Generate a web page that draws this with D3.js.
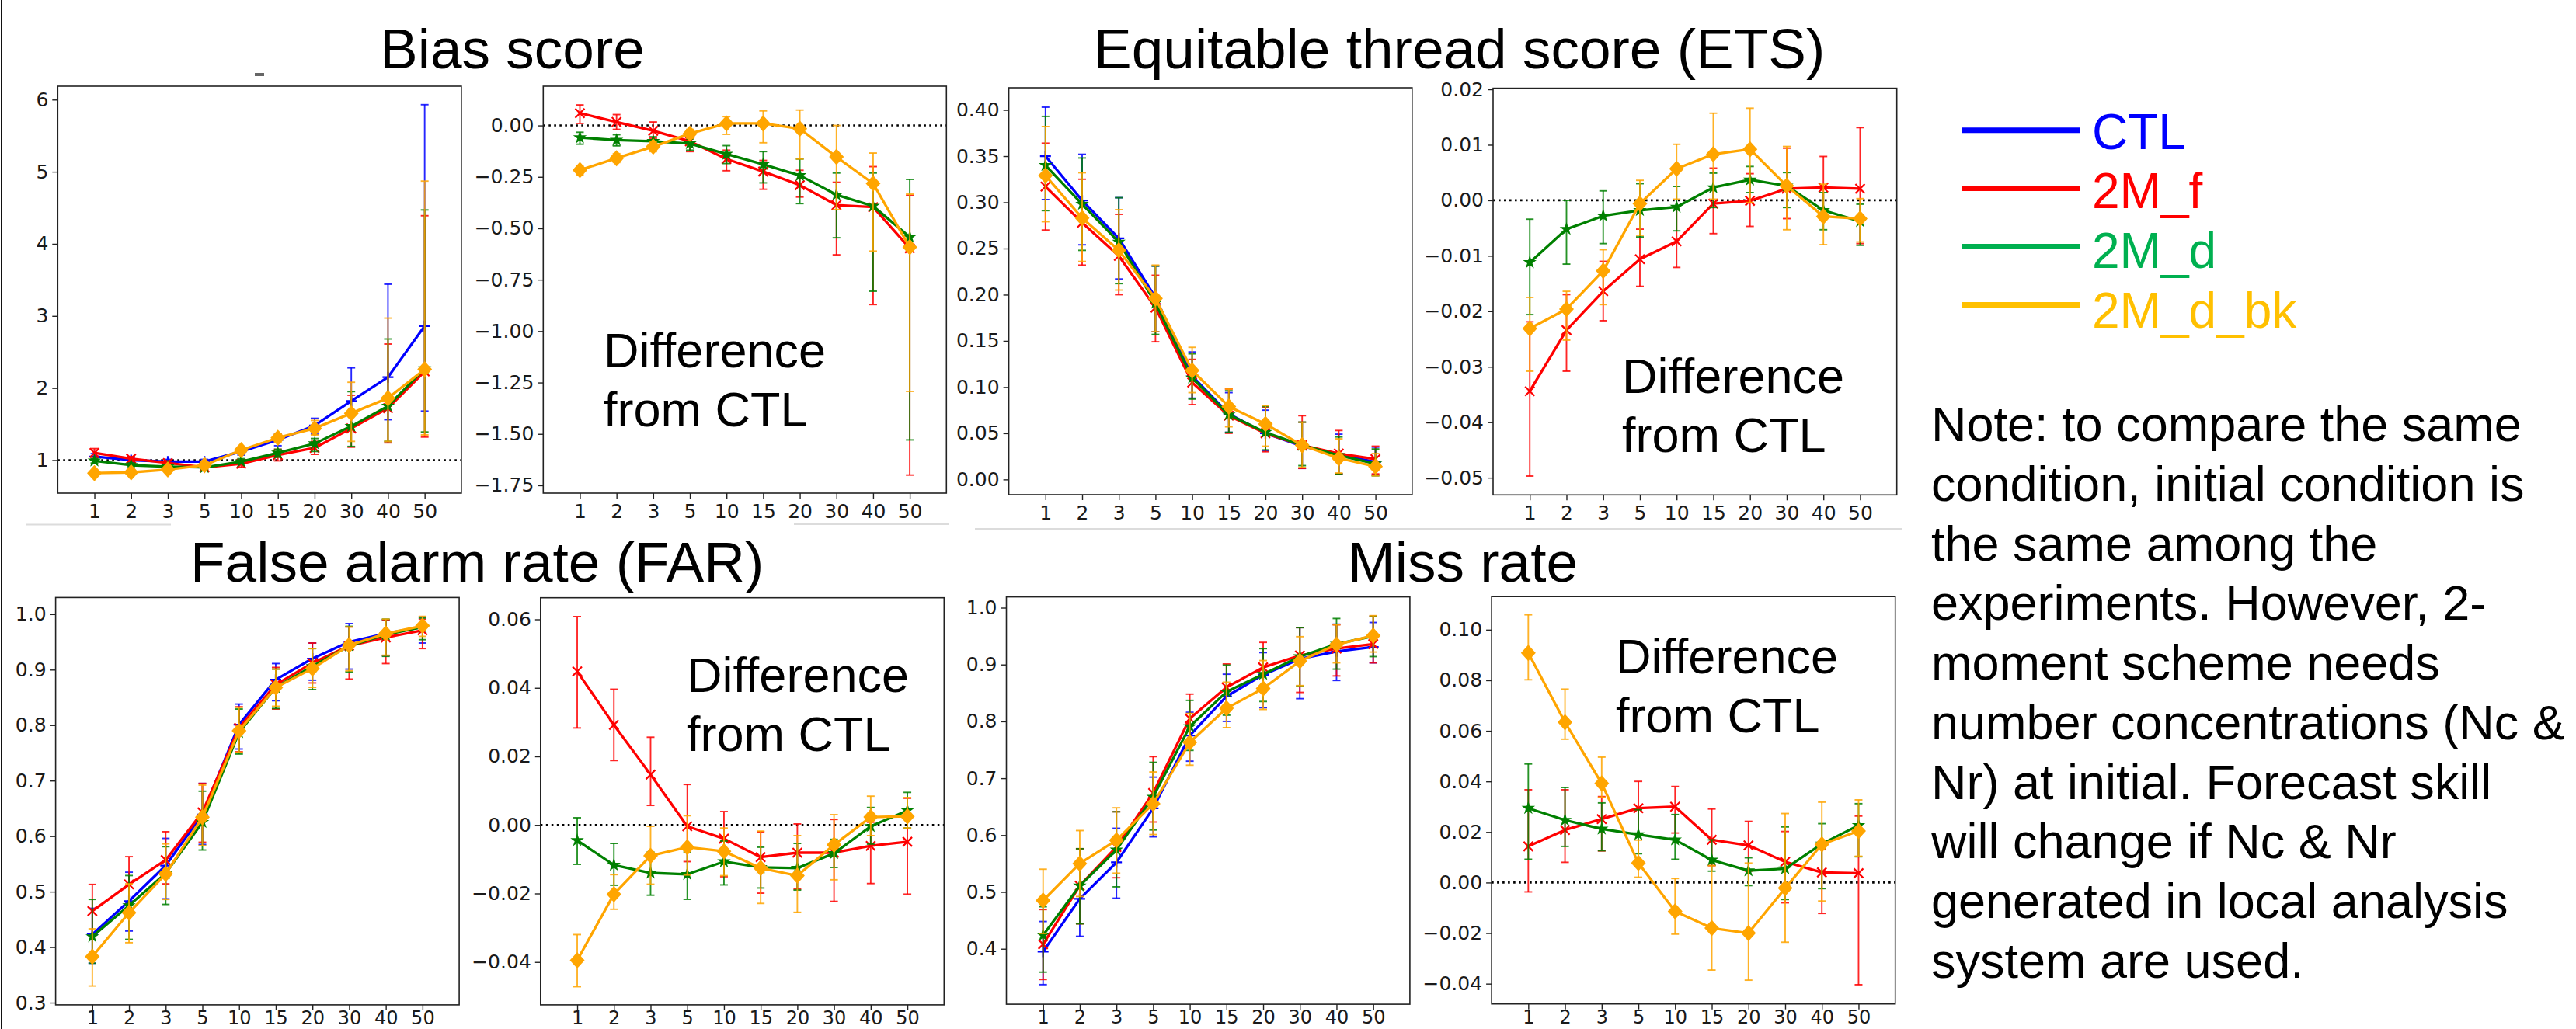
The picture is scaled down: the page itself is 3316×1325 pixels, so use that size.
<!DOCTYPE html>
<html>
<head>
<meta charset="utf-8">
<script src="https://cdn.jsdelivr.net/npm/d3@7"></script>
<style>
  body { margin: 0; background: #fff; }
  .slide { font-family: "Liberation Sans", Arial, sans-serif; }
</style>
</head>
<body>
<svg id="chart" width="3316" height="1325"></svg>
<script>
// forecast lead (x categories)
var leads = ["1", "2", "3", "5", "10", "15", "20", "30", "40", "50"];
var seriesNames = ["CTL", "2M_f", "2M_d", "2M_d_bk"];

// each point: [value, lower, upper]
// --- Bias score
var biasCTL = [[1.05,1.01,1.09],[1.00,0.97,1.03],[0.98,0.95,1.01],[0.98,0.95,1.01],[1.12,1.07,1.17],[1.28,1.20,1.36],[1.48,1.36,1.58],[1.82,1.49,2.28],[2.15,1.56,3.44],[2.86,1.68,5.93]];
var biasF   = [[1.10,1.04,1.16],[1.02,0.98,1.05],[0.96,0.93,0.99],[0.90,0.87,0.93],[0.95,0.90,1.00],[1.07,0.99,1.15],[1.17,1.08,1.26],[1.44,1.18,1.90],[1.72,1.24,2.61],[2.23,1.32,4.39]];
var biasD   = [[0.99,0.96,1.02],[0.93,0.91,0.96],[0.91,0.89,0.93],[0.90,0.87,0.92],[0.98,0.95,1.02],[1.10,1.04,1.15],[1.23,1.12,1.30],[1.47,1.19,1.95],[1.75,1.26,2.68],[2.27,1.39,4.47]];
var biasBK  = [[0.82,0.80,0.84],[0.83,0.81,0.85],[0.87,0.85,0.89],[0.93,0.90,0.96],[1.14,1.10,1.18],[1.31,1.25,1.37],[1.44,1.35,1.55],[1.65,1.26,2.08],[1.86,1.26,2.97],[2.26,1.35,4.87]];
var biasDiffF  = [[0.06,0.01,0.10],[0.017,-0.019,0.053],[-0.026,-0.062,0.017],[-0.077,-0.127,-0.048],[-0.163,-0.22,-0.12],[-0.224,-0.31,-0.17],[-0.29,-0.348,-0.218],[-0.387,-0.629,-0.276],[-0.397,-0.871,-0.20],[-0.597,-1.70,-0.34]];
var biasDiffD  = [[-0.059,-0.091,-0.033],[-0.071,-0.099,-0.045],[-0.077,-0.103,-0.055],[-0.088,-0.12,-0.065],[-0.139,-0.185,-0.098],[-0.189,-0.279,-0.127],[-0.243,-0.38,-0.163],[-0.337,-0.546,-0.231],[-0.392,-0.806,-0.231],[-0.543,-1.529,-0.262]];
var biasDiffBK = [[-0.217,-0.24,-0.195],[-0.159,-0.18,-0.137],[-0.103,-0.127,-0.077],[-0.04,-0.062,-0.019],[0.01,-0.043,0.043],[0.01,-0.084,0.071],[-0.016,-0.163,0.075],[-0.153,-0.409,0.0],[-0.282,-0.611,-0.134],[-0.592,-1.293,-0.334]];

// --- Equitable threat score
var etsCTL = [[0.350,0.303,0.403],[0.302,0.254,0.352],[0.261,0.217,0.305],[0.197,0.160,0.231],[0.112,0.088,0.138],[0.071,0.051,0.094],[0.050,0.031,0.075],[0.036,0.012,0.062],[0.027,0.006,0.049],[0.019,0.005,0.035]];
var etsF   = [[0.317,0.270,0.364],[0.278,0.232,0.325],[0.242,0.200,0.287],[0.186,0.149,0.221],[0.105,0.081,0.130],[0.069,0.050,0.098],[0.050,0.030,0.078],[0.037,0.012,0.069],[0.028,0.006,0.053],[0.022,0.006,0.036]];
var etsD   = [[0.340,0.291,0.393],[0.298,0.248,0.348],[0.257,0.212,0.305],[0.191,0.157,0.231],[0.110,0.087,0.136],[0.070,0.051,0.096],[0.051,0.032,0.079],[0.037,0.015,0.062],[0.026,0.006,0.046],[0.017,0.004,0.033]];
var etsBK  = [[0.329,0.279,0.382],[0.283,0.236,0.332],[0.248,0.205,0.292],[0.196,0.160,0.232],[0.118,0.094,0.143],[0.079,0.057,0.098],[0.060,0.036,0.080],[0.037,0.013,0.062],[0.023,0.007,0.044],[0.014,0.004,0.028]];
var etsDiffF  = [[-0.0344,-0.0497,-0.0219],[-0.0234,-0.0308,-0.017],[-0.0164,-0.0217,-0.011],[-0.0106,-0.0155,-0.0052],[-0.0074,-0.0121,-0.001],[-0.0006,-0.006,0.0058],[-0.0001,-0.0047,0.0048],[0.0021,-0.0033,0.0094],[0.0023,-0.003,0.0079],[0.0021,-0.0078,0.0131]];
var etsDiffD  = [[-0.0112,-0.0206,-0.0034],[-0.0052,-0.0115,0.0],[-0.0028,-0.0078,0.0017],[-0.0018,-0.0066,0.003],[-0.0012,-0.0055,0.0025],[0.0023,-0.0013,0.0049],[0.0037,0.0014,0.0061],[0.0026,-0.0013,0.005],[-0.0018,-0.0053,0.0014],[-0.0038,-0.0081,-0.0007]];
var etsDiffBK = [[-0.0231,-0.0308,-0.0175],[-0.0196,-0.0252,-0.0164],[-0.0127,-0.0188,-0.0089],[-0.0006,-0.0063,0.0036],[0.0057,0.0002,0.0101],[0.0083,0.0002,0.0157],[0.0092,-0.0004,0.0166],[0.0026,-0.0053,0.0097],[-0.0029,-0.008,0.0029],[-0.0033,-0.0075,0.0003]];

// --- False alarm rate
var farCTL = [[0.423,0.371,0.470],[0.483,0.429,0.535],[0.547,0.487,0.596],[0.639,0.585,0.695],[0.801,0.757,0.838],[0.882,0.844,0.911],[0.920,0.881,0.948],[0.950,0.901,0.983],[0.965,0.925,0.990],[0.977,0.948,0.995]];
var farF   = [[0.465,0.420,0.513],[0.513,0.477,0.563],[0.557,0.514,0.608],[0.643,0.589,0.695],[0.795,0.752,0.833],[0.873,0.829,0.904],[0.912,0.876,0.948],[0.943,0.883,0.977],[0.958,0.911,0.989],[0.971,0.938,0.991]];
var farD   = [[0.419,0.371,0.486],[0.475,0.414,0.529],[0.533,0.477,0.581],[0.625,0.575,0.681],[0.787,0.748,0.829],[0.868,0.830,0.901],[0.906,0.864,0.938],[0.943,0.896,0.978],[0.963,0.924,0.991],[0.977,0.954,0.993]];
var farBK  = [[0.383,0.330,0.433],[0.462,0.408,0.514],[0.532,0.486,0.586],[0.634,0.583,0.692],[0.790,0.751,0.832],[0.868,0.834,0.901],[0.902,0.868,0.938],[0.944,0.898,0.977],[0.965,0.926,0.991],[0.979,0.960,0.996]];
var farDiffF  = [[0.0448,0.0283,0.0608],[0.0292,0.0188,0.0396],[0.0147,0.0057,0.0256],[-0.0004,-0.0107,0.0118],[-0.004,-0.0151,0.0039],[-0.0094,-0.0199,-0.002],[-0.0081,-0.0187,0.0003],[-0.0081,-0.0223,0.0016],[-0.0061,-0.0171,0.0008],[-0.0049,-0.0202,0.0078]];
var farDiffD  = [[-0.0045,-0.0115,0.0021],[-0.0117,-0.0176,-0.0054],[-0.014,-0.0205,-0.0079],[-0.0144,-0.0217,-0.0079],[-0.0107,-0.0175,-0.0047],[-0.0124,-0.0184,-0.0065],[-0.0126,-0.019,-0.0054],[-0.0083,-0.0124,-0.0042],[-0.0004,-0.0056,0.0051],[0.0042,-0.0009,0.0095]];
var farDiffBK = [[-0.0395,-0.0472,-0.032],[-0.0202,-0.0246,-0.0145],[-0.009,-0.0173,-0.0004],[-0.0065,-0.0146,0.0027],[-0.0077,-0.0148,-0.0009],[-0.0126,-0.0229,-0.0018],[-0.0148,-0.0255,-0.0031],[-0.0058,-0.016,0.003],[0.0023,-0.0031,0.0084],[0.0025,-0.0009,0.008]];

// --- Miss rate
var missCTL = [[0.395,0.337,0.448],[0.488,0.422,0.551],[0.552,0.489,0.612],[0.647,0.597,0.702],[0.775,0.730,0.816],[0.844,0.800,0.883],[0.882,0.824,0.921],[0.910,0.840,0.965],[0.923,0.872,0.971],[0.931,0.903,0.974]];
var missF   = [[0.408,0.346,0.469],[0.511,0.444,0.576],[0.579,0.525,0.641],[0.674,0.623,0.738],[0.805,0.760,0.848],[0.860,0.819,0.901],[0.895,0.852,0.939],[0.916,0.851,0.965],[0.928,0.880,0.970],[0.936,0.903,0.985]];
var missD   = [[0.424,0.359,0.474],[0.511,0.444,0.576],[0.574,0.509,0.641],[0.667,0.609,0.728],[0.791,0.749,0.837],[0.852,0.811,0.899],[0.883,0.835,0.928],[0.914,0.862,0.965],[0.936,0.892,0.981],[0.950,0.914,0.985]];
var missBK  = [[0.485,0.427,0.540],[0.550,0.492,0.608],[0.591,0.533,0.648],[0.655,0.601,0.711],[0.763,0.723,0.814],[0.823,0.789,0.869],[0.858,0.821,0.907],[0.906,0.863,0.949],[0.935,0.903,0.970],[0.951,0.922,0.986]];
var missDiffF  = [[0.0143,-0.0037,0.0367],[0.0208,0.008,0.0367],[0.0251,0.0125,0.034],[0.0294,0.019,0.040],[0.030,0.0196,0.038],[0.0169,0.0067,0.0291],[0.0147,0.0045,0.0242],[0.0082,-0.008,0.0202],[0.004,-0.0122,0.013],[0.0037,-0.0404,0.0263]];
var missDiffD  = [[0.0294,0.0092,0.0469],[0.0247,0.0143,0.0376],[0.0212,0.0126,0.0315],[0.019,0.0114,0.0288],[0.0169,0.0092,0.0269],[0.0089,0.0045,0.0169],[0.0047,-0.0012,0.0098],[0.0055,-0.0067,0.022],[0.0153,-0.0024,0.0233],[0.0226,0.0102,0.0312]];
var missDiffBK = [[0.0908,0.0802,0.1059],[0.0634,0.0567,0.0765],[0.0392,0.0337,0.0496],[0.0077,0.0021,0.0168],[-0.0114,-0.0204,0.0016],[-0.018,-0.0346,0.0067],[-0.020,-0.0386,0.0077],[-0.0022,-0.0236,0.0273],[0.0151,-0.0073,0.0318],[0.0204,0.0104,0.0327]];

// tick labels
var biasTicks = [1, 2, 3, 4, 5, 6];
var biasDiffTicks = [0, -0.25, -0.5, -0.75, -1, -1.25, -1.5, -1.75];
var etsTicks = [0, 0.05, 0.1, 0.15, 0.2, 0.25, 0.3, 0.35, 0.4];
var etsDiffTicks = [0.02, 0.01, 0, -0.01, -0.02, -0.03, -0.04, -0.05];
var farTicks = [0.3, 0.4, 0.5, 0.6, 0.7, 0.8, 0.9, 1.0];
var farDiffTicks = [0.06, 0.04, 0.02, 0, -0.02, -0.04];
var missTicks = [0.4, 0.5, 0.6, 0.7, 0.8, 0.9, 1.0];
var missDiffTicks = [0.10, 0.08, 0.06, 0.04, 0.02, 0, -0.02, -0.04];

var titles = ["Bias score", "Equitable thread score (ETS)", "False alarm rate (FAR)", "Miss rate"];
var noteLines = [
  "Note: to compare the same",
  "condition, initial condition is",
  "the same among the",
  "experiments. However, 2-",
  "moment scheme needs",
  "number concentrations (Nc &",
  "Nr) at initial. Forecast skill",
  "will change if Nc & Nr",
  "generated in local analysis",
  "system are used."
];

// styles
var lineColor = { "CTL": "blue", "2M_f": "red", "2M_d": "green", "2M_d_bk": "orange" };
var legendColor = { "CTL": "#0000ff", "2M_f": "#ff0000", "2M_d": "#00b050", "2M_d_bk": "#ffc000" };

var svg = d3.select("#chart");
svg.append("rect").attr("width", 3316).attr("height", 1325).attr("fill", "#fff");

// left slide edge
svg.append("line").attr("x1", 2).attr("x2", 2).attr("y1", 0).attr("y2", 1325)
    .attr("stroke", "#111").attr("stroke-width", 2);
// leftover picture borders
[[34, 220, 675.5], [1022, 1222, 675], [1255, 2448, 681]].forEach(function(s) {
  svg.append("line").attr("x1", s[0]).attr("x2", s[1]).attr("y1", s[2]).attr("y2", s[2])
      .attr("stroke", "#dcdcdc").attr("stroke-width", 2);
});
svg.append("rect").attr("x", 328).attr("y", 94).attr("width", 12).attr("height", 4).attr("fill", "#666");

var panels = [
  { box: [74.3, 111, 593.9, 635], dom: [0.542, 6.186], ticks: biasTicks, fmt: "d", ref: 1,
    series: [["CTL", biasCTL], ["2M_f", biasF], ["2M_d", biasD], ["2M_d_bk", biasBK]] },
  { box: [699.3, 111, 1218.3, 635], dom: [-1.788, 0.191], ticks: biasDiffTicks, fmt: ".2f", ref: 0,
    series: [["2M_f", biasDiffF], ["2M_d", biasDiffD], ["2M_d_bk", biasDiffBK]], note: [777, 472.7] },
  { box: [1298.6, 113, 1817.8, 637], dom: [-0.0165, 0.424], ticks: etsTicks, fmt: ".2f", ref: null,
    series: [["CTL", etsCTL], ["2M_f", etsF], ["2M_d", etsD], ["2M_d_bk", etsBK]] },
  { box: [1922, 113.6, 2441.7, 637.3], dom: [-0.0531, 0.0202], ticks: etsDiffTicks, fmt: ".2f", ref: 0,
    series: [["2M_f", etsDiffF], ["2M_d", etsDiffD], ["2M_d_bk", etsDiffBK]], note: [2088, 506] },
  { box: [71.6, 769.4, 591.1, 1293.9], dom: [0.296, 1.030], ticks: farTicks, fmt: ".1f", ref: null,
    series: [["CTL", farCTL], ["2M_f", farF], ["2M_d", farD], ["2M_d_bk", farBK]] },
  { box: [695.8, 769.7, 1215.3, 1293.9], dom: [-0.0525, 0.0663], ticks: farDiffTicks, fmt: ".2f", ref: 0,
    series: [["2M_f", farDiffF], ["2M_d", farDiffD], ["2M_d_bk", farDiffBK]], note: [884, 890.5] },
  { box: [1295.5, 768.6, 1814.9, 1293.1], dom: [0.3025, 1.019], ticks: missTicks, fmt: ".1f", ref: null,
    series: [["CTL", missCTL], ["2M_f", missF], ["2M_d", missD], ["2M_d_bk", missBK]] },
  { box: [1920.1, 768.2, 2439.7, 1292.7], dom: [-0.048, 0.1131], ticks: missDiffTicks, fmt: ".2f", ref: 0,
    series: [["2M_f", missDiffF], ["2M_d", missDiffD], ["2M_d_bk", missDiffBK]], note: [2080, 866.6] }
];

function marker(sel, name) {
  var c = lineColor[name];
  if (name === "CTL") {
    sel.append("path").attr("d", "M-7,0H7M0,-7V7").attr("stroke", c).attr("stroke-width", 2.2).attr("fill", "none");
  } else if (name === "2M_f") {
    sel.append("path").attr("d", "M-6,-6L6,6M-6,6L6,-6").attr("stroke", c).attr("stroke-width", 2.2).attr("fill", "none");
  } else if (name === "2M_d") {
    sel.append("path").attr("d", d3.symbol(d3.symbolStar, 95)()).attr("fill", c);
  } else {
    sel.append("path").attr("d", "M0,-10.5L9.5,0L0,10.5L-9.5,0Z").attr("fill", c);
  }
}

function drawPanel(p) {
  var g = svg.append("g");
  var x = d3.scalePoint().domain(leads).range([p.box[0], p.box[2]]).padding(1);
  var y = d3.scaleLinear().domain(p.dom).range([p.box[3], p.box[1]]);
  // bottom row labels sit on the page edge, keep them inside
  var bottomRow = p.box[3] > 1000;

  var ya = g.append("g").attr("transform", "translate(" + p.box[0] + ",0)")
      .call(d3.axisLeft(y).tickValues(p.ticks).tickFormat(d3.format(p.fmt)).tickSize(7).tickSizeOuter(0).tickPadding(5));
  var xa = g.append("g").attr("transform", "translate(0," + p.box[3] + ")")
      .call(d3.axisBottom(x).tickSize(7).tickSizeOuter(0).tickPadding(bottomRow ? 1 : 7));
  [ya, xa].forEach(function(a) {
    a.select(".domain").remove();
    a.selectAll("text").attr("font-family", "DejaVu Sans").attr("font-size", 25).attr("fill", "#1a1a1a");
    a.selectAll("line").attr("stroke", "#222").attr("stroke-width", 1.4);
  });
  if (bottomRow) xa.selectAll("text").attr("font-size", 24);

  if (p.ref !== null) {
    g.append("line").attr("x1", p.box[0]).attr("x2", p.box[2])
        .attr("y1", y(p.ref)).attr("y2", y(p.ref))
        .attr("stroke", "#000").attr("stroke-width", 2.6).attr("stroke-dasharray", "2.6,4.4");
  }

  var line = d3.line().x(function(d, i) { return x(leads[i]); }).y(function(d) { return y(d[0]); });

  p.series.forEach(function(s) {
    var name = s[0], data = s[1], c = lineColor[name];
    var sg = g.append("g");
    var eb = sg.append("g").attr("stroke", c).attr("stroke-width", 1.9).attr("stroke-opacity", 0.85);
    data.forEach(function(d, i) {
      var cx = x(leads[i]);
      eb.append("line").attr("x1", cx).attr("x2", cx).attr("y1", y(d[1])).attr("y2", y(d[2]));
      eb.append("line").attr("x1", cx - 5).attr("x2", cx + 5).attr("y1", y(d[1])).attr("y2", y(d[1]));
      eb.append("line").attr("x1", cx - 5).attr("x2", cx + 5).attr("y1", y(d[2])).attr("y2", y(d[2]));
    });
    sg.append("path").datum(data).attr("d", line)
        .attr("fill", "none").attr("stroke", c).attr("stroke-width", 3.3).attr("stroke-linejoin", "round");
    sg.selectAll("g.mk").data(data).join("g").attr("class", "mk")
        .attr("transform", function(d, i) { return "translate(" + x(leads[i]) + "," + y(d[0]) + ")"; })
        .each(function() { marker(d3.select(this), name); });
  });

  g.append("rect").attr("x", p.box[0]).attr("y", p.box[1])
      .attr("width", p.box[2] - p.box[0]).attr("height", p.box[3] - p.box[1])
      .attr("fill", "none").attr("stroke", "#222").attr("stroke-width", 1.6);

  if (p.note) {
    var t = g.append("text").attr("class", "slide").attr("font-size", 63).attr("fill", "#000");
    t.append("tspan").attr("x", p.note[0]).attr("y", p.note[1]).text("Difference");
    t.append("tspan").attr("x", p.note[0]).attr("y", p.note[1] + 76).text("from CTL");
  }
}

panels.forEach(drawPanel);

// titles
var titlePos = [[489, 88], [1408, 88], [245, 748.5], [1735, 748.5]];
titles.forEach(function(t, i) {
  svg.append("text").attr("class", "slide").attr("x", titlePos[i][0]).attr("y", titlePos[i][1])
      .attr("font-size", 73).attr("fill", "#000").text(t);
});

// legend
var legend = svg.append("g").attr("class", "slide");
seriesNames.forEach(function(n, i) {
  legend.append("line").attr("x1", 2525).attr("x2", 2677)
      .attr("y1", 167.7 + i * 74.9).attr("y2", 167.7 + i * 74.9)
      .attr("stroke", legendColor[n]).attr("stroke-width", 7);
  legend.append("text").attr("x", 2693).attr("y", 191.7 + i * 76.67)
      .attr("font-size", 64).attr("fill", legendColor[n]).text(n);
});

// note
var note = svg.append("text").attr("class", "slide").attr("font-size", 63).attr("fill", "#000");
noteLines.forEach(function(l, i) {
  note.append("tspan").attr("x", 2486).attr("y", 568.3 + i * 76.7).text(l);
});
</script>
</body>
</html>
